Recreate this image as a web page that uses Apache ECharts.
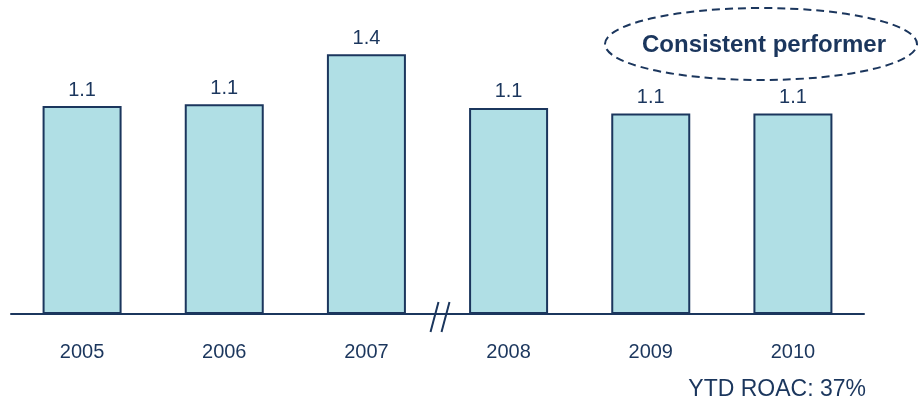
<!DOCTYPE html>
<html>
<head>
<meta charset="utf-8">
<script src="https://cdn.jsdelivr.net/npm/echarts@6/dist/echarts.min.js"></script>
<style>
  html, body { margin: 0; padding: 0; background: #ffffff; }
  #chart { width: 919px; height: 404px; }
</style>
</head>
<body>
<div id="chart"></div>
<script>
// Return on assets ratio by year
const years = ['2005', '2006', '2007', '2008', '2009', '2010'];
const ratios = [1.12, 1.13, 1.40, 1.11, 1.08, 1.08];
const noteText = 'YTD ROAC: 37%';
const calloutText = 'Consistent performer';

const NAVY = '#1b365d';
const FILL = '#b0dfe5';
const FONT = '"Liberation Sans", Arial, sans-serif';

const chart = echarts.init(document.getElementById('chart'));

chart.setOption({
  animation: false,
  grid: { left: 11, right: 55, top: 17, bottom: 90 },
  xAxis: {
    type: 'category',
    data: years,
    axisLine: { show: true, lineStyle: { color: NAVY, width: 2 } },
    axisTick: { show: false },
    axisLabel: { color: NAVY, fontSize: 20, fontFamily: FONT, margin: 28 }
  },
  yAxis: {
    type: 'value',
    min: 0,
    max: 1.6,
    show: false,
    splitLine: { show: false }
  },
  series: [{
    type: 'bar',
    data: ratios,
    barWidth: 79,
    itemStyle: { color: FILL, borderColor: NAVY, borderWidth: 2 },
    label: {
      show: true,
      position: 'top',
      distance: 6,
      color: NAVY,
      fontSize: 20,
      fontFamily: FONT,
      formatter: p => p.value.toFixed(1)
    }
  }]
});

// Axis break between 2007 and 2008, placed on the category boundary
const p07 = chart.convertToPixel({ xAxisIndex: 0 }, '2007');
const p08 = chart.convertToPixel({ xAxisIndex: 0 }, '2008');
const base = chart.convertToPixel({ yAxisIndex: 0 }, 0);
const bx = (p07 + p08) / 2;

chart.setOption({
  graphic: [
    {
      type: 'line',
      shape: { x1: bx + 1, y1: base - 12, x2: bx - 7, y2: base + 18 },
      style: { stroke: NAVY, lineWidth: 2 }
    },
    {
      type: 'line',
      shape: { x1: bx + 12, y1: base - 12, x2: bx + 4, y2: base + 18 },
      style: { stroke: NAVY, lineWidth: 2 }
    },
    {
      type: 'ellipse',
      shape: { cx: 761, cy: 44, rx: 156, ry: 36 },
      style: { fill: 'none', stroke: NAVY, lineWidth: 2, lineDash: [8, 5] }
    },
    {
      type: 'text',
      x: 764,
      y: 45,
      style: {
        text: calloutText,
        fill: NAVY,
        font: 'bold 24px ' + FONT,
        align: 'center',
        verticalAlign: 'middle'
      }
    },
    {
      type: 'text',
      x: 866,
      y: 390,
      style: {
        text: noteText,
        fill: NAVY,
        font: '23px ' + FONT,
        align: 'right',
        verticalAlign: 'middle'
      }
    }
  ]
});
</script>
</body>
</html>
